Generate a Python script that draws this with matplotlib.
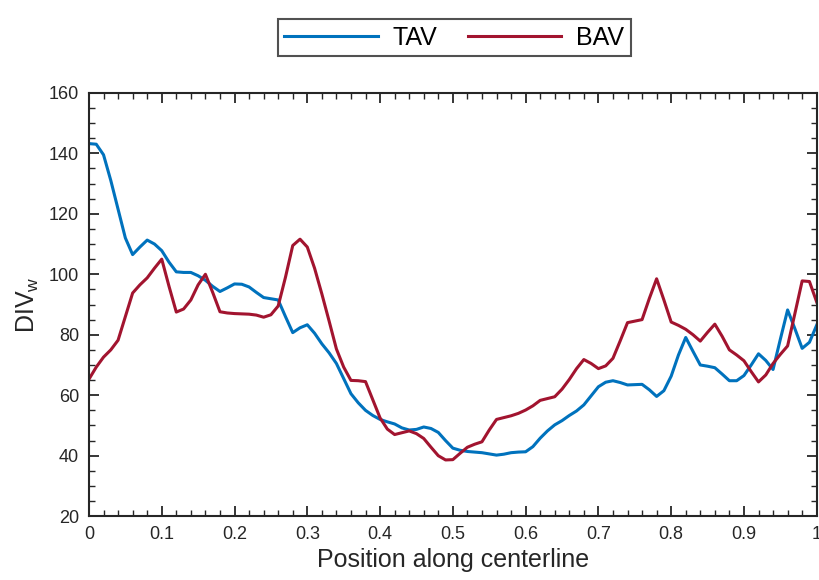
import numpy as np
import matplotlib
matplotlib.use("Agg")
import matplotlib.pyplot as plt
from matplotlib.ticker import MultipleLocator

plt.rcParams["font.family"] = ["Liberation Sans", "DejaVu Sans"]

# Data (positions every 0.01)
position = np.round(np.arange(0, 101) * 0.01, 2)

tav = [143.2, 143.0, 139.5, 131.0, 121.5, 112.0, 106.5, 109.0, 111.3, 110.0,
       107.8, 104.0, 100.8, 100.6, 100.6, 99.5, 98.0, 96.0, 94.3, 95.5,
       96.8, 96.7, 95.8, 94.0, 92.3, 91.9, 91.5, 86.0, 80.7, 82.3,
       83.3, 80.5, 77.0, 74.0, 70.5, 65.5, 60.5, 57.5, 55.0, 53.3,
       52.0, 51.2, 50.5, 49.2, 48.5, 48.7, 49.5, 49.0, 47.7, 45.0,
       42.5, 41.8, 41.4, 41.2, 41.0, 40.6, 40.2, 40.5, 41.0, 41.2,
       41.3, 43.0, 45.8, 48.2, 50.2, 51.6, 53.3, 54.8, 56.8, 59.8,
       62.8, 64.3, 64.8, 64.2, 63.4, 63.5, 63.6, 61.8, 59.6, 61.5,
       66.3, 73.3, 79.1, 74.5, 70.0, 69.6, 69.1, 67.0, 64.8, 64.8,
       66.5, 70.0, 73.7, 71.5, 68.5, 78.5, 88.2, 82.0, 75.5, 77.5,
       83.2]

bav = [65.3, 69.3, 72.6, 75.0, 78.2, 86.0, 93.8, 96.5, 98.8, 102.0,
       105.0, 96.0, 87.5, 88.5, 91.5, 96.5, 100.0, 94.0, 87.6, 87.2,
       87.0, 86.9, 86.8, 86.5, 85.8, 86.6, 89.5, 99.0, 109.5, 111.6,
       109.0, 102.0, 93.5, 84.5, 75.3, 69.3, 64.9, 64.8, 64.5, 58.5,
       52.5, 48.8, 47.0, 47.6, 48.2, 47.3, 45.7, 42.8, 40.0, 38.6,
       38.7, 40.8, 42.8, 43.8, 44.6, 48.5, 52.0, 52.6, 53.2, 54.0,
       55.1, 56.5, 58.3, 58.9, 59.5, 62.0, 65.2, 68.8, 71.8, 70.5,
       68.8, 69.7, 72.2, 78.0, 84.0, 84.5, 85.0, 92.0, 98.5, 91.5,
       84.2, 83.1, 81.8, 80.0, 77.9, 80.8, 83.5, 79.5, 75.0, 73.3,
       71.4, 67.8, 64.4, 66.7, 70.5, 73.5, 76.3, 87.0, 97.8, 97.6,
       90.8]

fig = plt.figure(figsize=(8.2, 5.8), dpi=100)
ax = fig.add_axes([0.1085, 0.110, 0.8875, 0.730])

ax.plot(position, tav, color="#0072BD", linewidth=2.2, label="TAV")
ax.plot(position, bav, color="#A2142F", linewidth=2.2, label="BAV")

ax.set_xlim(0, 1)
ax.set_ylim(20, 160)
ax.xaxis.set_minor_locator(MultipleLocator(0.02))
ax.yaxis.set_major_locator(MultipleLocator(20))
ax.yaxis.set_minor_locator(MultipleLocator(5))
ax.set_xticks(np.arange(0, 1.01, 0.1))
ax.set_xticklabels(["0", "0.1", "0.2", "0.3", "0.4", "0.5", "0.6", "0.7", "0.8", "0.9", "1"])

ax.tick_params(which="both", direction="in", top=True, right=True,
               color="#262626", labelsize=13, labelcolor="#262626")
ax.tick_params(which="major", length=7, width=1.3, pad=7)
ax.tick_params(which="minor", length=4, width=1.0)
for s in ax.spines.values():
    s.set_color("#262626")
    s.set_linewidth(1.5)

ax.set_xlabel("Position along centerline", fontsize=18, color="#262626", labelpad=4)
ax.set_ylabel(r"DIV$_\mathregular{w}$", fontsize=18, color="#262626", labelpad=6)

leg = fig.legend(loc="center", bbox_to_anchor=(0.554, 0.935), ncol=2,
                 fontsize=18, frameon=True, fancybox=False, edgecolor="#262626",
                 handlelength=3.75, columnspacing=1.2, borderpad=0.25,
                 handletextpad=0.6)
leg.get_frame().set_linewidth(1.5)

plt.savefig("out.png", dpi=100)
